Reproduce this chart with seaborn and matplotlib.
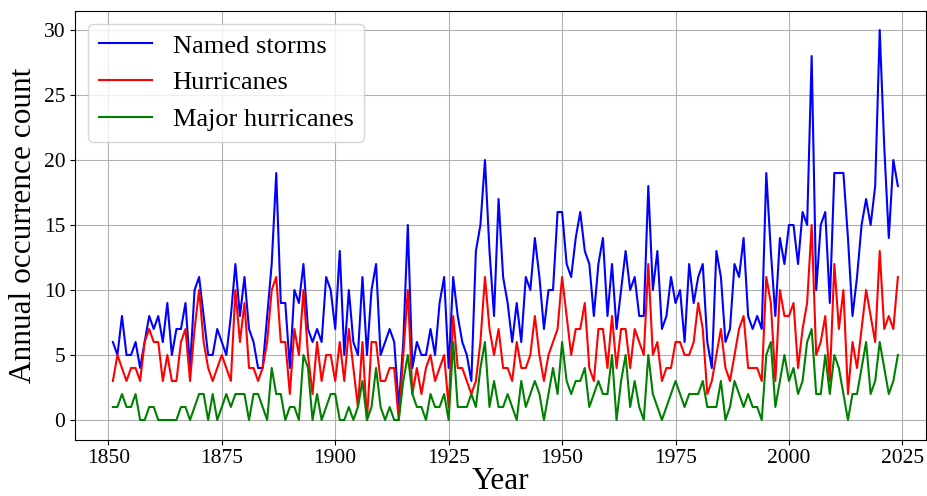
import matplotlib
matplotlib.use("Agg")
import matplotlib.pyplot as plt
import seaborn as sns
import numpy as np

years = list(range(1851, 2025))

named_storms = [
    6, 5, 8, 5, 5, 6, 4, 6, 8, 7,
    8, 6, 9, 5, 7, 7, 9, 4, 10, 11,
    8, 5, 5, 7, 6, 5, 8, 12, 8, 11,
    7, 6, 4, 4, 8, 12, 19, 9, 9, 4,
    10, 9, 12, 7, 6, 7, 6, 11, 10, 7,
    13, 5, 10, 6, 5, 11, 5, 10, 12, 5,
    6, 7, 6, 1, 6, 15, 4, 6, 5, 5,
    7, 5, 9, 11, 4, 11, 8, 6, 5, 3,
    13, 15, 20, 13, 8, 17, 11, 9, 6, 9,
    6, 11, 10, 14, 11, 7, 10, 10, 16, 16,
    12, 11, 14, 16, 13, 12, 8, 12, 14, 8,
    12, 7, 10, 13, 10, 11, 8, 8, 18, 10,
    13, 7, 8, 11, 9, 10, 6, 12, 9, 11,
    12, 6, 4, 13, 11, 6, 7, 12, 11, 14,
    8, 7, 8, 7, 19, 13, 8, 14, 12, 15,
    15, 12, 16, 15, 28, 10, 15, 16, 9, 19,
    19, 19, 14, 8, 11, 15, 17, 15, 18, 30,
    21, 14, 20, 18,
]

hurricanes = [
    3, 5, 4, 3, 4, 4, 3, 6, 7, 6,
    6, 3, 5, 3, 3, 6, 7, 3, 7, 10,
    6, 4, 3, 4, 5, 4, 3, 10, 6, 9,
    4, 4, 3, 4, 6, 10, 11, 6, 6, 2,
    7, 5, 10, 5, 2, 6, 3, 5, 5, 3,
    6, 3, 7, 4, 1, 6, 0, 6, 6, 3,
    3, 4, 4, 0, 5, 10, 2, 4, 2, 4,
    5, 3, 4, 5, 1, 8, 4, 4, 3, 2,
    3, 6, 11, 7, 5, 7, 4, 4, 3, 6,
    4, 4, 5, 8, 5, 3, 5, 6, 7, 11,
    8, 5, 7, 7, 9, 4, 3, 7, 7, 4,
    8, 4, 7, 7, 4, 7, 6, 5, 12, 5,
    6, 3, 4, 4, 6, 6, 5, 5, 6, 9,
    7, 2, 3, 5, 7, 4, 3, 5, 7, 8,
    4, 4, 4, 3, 11, 9, 3, 10, 8, 8,
    9, 4, 7, 9, 15, 5, 6, 8, 3, 12,
    7, 10, 2, 6, 4, 7, 10, 8, 6, 13,
    7, 8, 7, 11,
]

major_hurricanes = [
    1, 1, 2, 1, 1, 2, 0, 0, 1, 1,
    0, 0, 0, 0, 0, 1, 1, 0, 1, 2,
    2, 0, 2, 0, 1, 2, 1, 2, 2, 2,
    0, 2, 2, 1, 0, 4, 2, 2, 0, 1,
    1, 0, 5, 4, 0, 2, 0, 1, 2, 2,
    0, 0, 1, 0, 1, 3, 0, 1, 4, 1,
    0, 1, 0, 0, 3, 5, 2, 1, 1, 0,
    2, 1, 1, 2, 0, 6, 1, 1, 1, 2,
    1, 4, 6, 1, 3, 1, 1, 2, 1, 0,
    3, 1, 2, 3, 2, 0, 2, 4, 2, 6,
    3, 2, 3, 3, 4, 1, 2, 3, 2, 2,
    5, 0, 3, 5, 1, 3, 1, 0, 5, 2,
    1, 0, 1, 2, 3, 2, 1, 2, 2, 2,
    3, 1, 1, 1, 3, 0, 1, 3, 2, 1,
    2, 1, 1, 0, 5, 6, 1, 3, 5, 3,
    4, 2, 3, 6, 7, 2, 2, 5, 2, 5,
    4, 2, 0, 2, 2, 4, 6, 2, 3, 6,
    4, 2, 3, 5,
]

series_labels = ["Named storms", "Hurricanes", "Major hurricanes"]
series_colors = ["blue", "red", "green"]

plt.rcParams["font.family"] = ["Liberation Serif", "DejaVu Serif"]

fig = plt.figure(figsize=(9.28, 4.96), dpi=100)
ax = fig.add_axes([75 / 928, 1 - 439.5 / 496, (926 - 75) / 928, 429 / 496])

for vals, lab, col in zip([named_storms, hurricanes, major_hurricanes], series_labels, series_colors):
    sns.lineplot(x=years, y=vals, color=col, label=lab, linewidth=1.5, ax=ax)

ax.set_xlim(1842.65, 2030.2)
ax.set_ylim(-1.5, 31.5)
ax.set_xticks([1850, 1875, 1900, 1925, 1950, 1975, 2000, 2025])
ax.set_yticks([0, 5, 10, 15, 20, 25, 30])
ax.tick_params(labelsize=15.5)
ax.grid(True, color="#b0b0b0", linewidth=0.8)
ax.set_axisbelow(True)
ax.set_xlabel("Year", fontsize=22.5, labelpad=-1)
ax.set_ylabel("Annual occurrence count", fontsize=22.5, labelpad=4)
ax.legend(loc="upper left", fontsize=19)

fig.savefig("out.png", dpi=100)
